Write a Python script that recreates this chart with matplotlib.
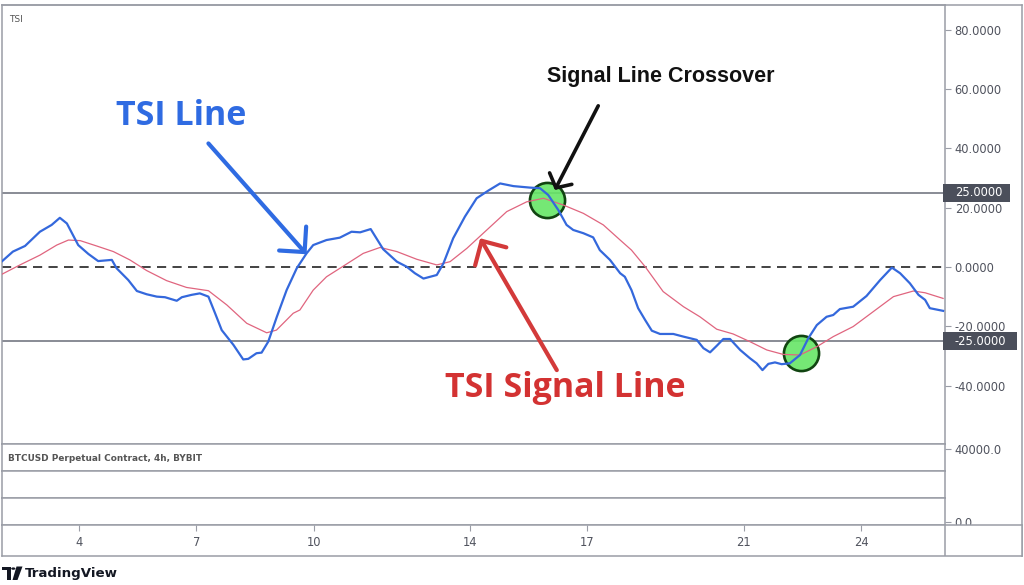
import matplotlib
matplotlib.use("Agg")
import matplotlib.pyplot as plt
from matplotlib import transforms
from matplotlib.patches import FancyArrowPatch, Rectangle, Circle, Polygon
from matplotlib.lines import Line2D

# ---------------- data ----------------
tsi_x = [2.02, 2.31, 2.62, 3.00, 3.30, 3.51, 3.69, 3.98, 4.24, 4.49, 4.84, 4.96, 5.26, 5.48,
         5.73, 5.99, 6.20, 6.50, 6.63, 6.88, 7.09, 7.31, 7.48, 7.65, 7.95, 8.20, 8.33, 8.54,
         8.67, 8.84, 9.06, 9.31, 9.57, 9.82, 9.99, 10.33, 10.67, 10.97, 11.19, 11.46, 11.78,
         12.13, 12.38, 12.59, 12.81, 13.15, 13.32, 13.57, 13.87, 14.17, 14.47, 14.77, 15.11,
         15.53, 15.79, 16.00, 16.26, 16.47, 16.64, 16.90, 17.15, 17.32, 17.58, 17.84, 17.96,
         18.13, 18.30, 18.48, 18.65, 18.86, 19.20, 19.46, 19.80, 19.97, 20.14, 20.31, 20.48,
         20.65, 20.91, 21.16, 21.33, 21.48, 21.63, 21.80, 21.97, 22.18, 22.44, 22.65, 22.87,
         23.12, 23.29, 23.46, 23.80, 24.14, 24.49, 24.79, 25.00, 25.25, 25.47, 25.64, 25.76,
         26.10]
tsi_y = [1.8, 5.2, 7.1, 11.9, 14.2, 16.6, 14.7, 7.4, 4.4, 2.0, 2.4, -0.4, -4.4, -8.1,
         -9.2, -10.0, -10.2, -11.4, -10.2, -9.4, -8.9, -10.0, -15.6, -21.3, -26.3, -31.2, -31.0, -29.1,
         -28.9, -25.2, -16.8, -7.8, -0.4, 4.6, 7.4, 9.1, 9.9, 11.9, 11.7, 12.8, 6.0,
         1.8, 0.1, -2.1, -3.9, -2.7, 1.2, 9.7, 17.0, 23.2, 25.8, 28.2, 27.3,
         26.8, 26.6, 24.3, 19.2, 14.2, 12.5, 11.4, 10.0, 5.7, 2.4, -2.1, -3.3,
         -7.8, -13.9, -17.9, -21.5, -22.6, -22.6, -23.5, -24.6, -27.4, -28.8, -26.6, -24.3,
         -24.3, -28.0, -30.8, -32.5, -34.8, -32.7, -32.2, -32.8, -32.5, -29.7, -24.1, -19.6,
         -16.8, -16.2, -14.2, -13.4, -9.8, -4.4, -0.2, -2.1, -5.5, -9.4, -11.1, -13.9,
         -14.8]

sig_x = [2.02, 2.49, 3.00, 3.43, 3.73, 4.03, 4.45, 4.88, 5.30, 5.73, 6.24, 6.75, 7.31, 7.78,
         8.29, 8.80, 9.05, 9.48, 9.65, 9.99, 10.33, 10.76, 11.27, 11.70, 12.13, 12.64, 13.15,
         13.49, 13.92, 14.43, 14.94, 15.45, 15.88, 16.39, 16.90, 17.41, 17.84, 18.13, 18.48,
         18.94, 19.46, 19.88, 20.31, 20.73, 21.16, 21.59, 22.01, 22.44, 22.87, 23.29, 23.80,
         24.31, 24.83, 25.34, 25.64, 26.10]
sig_y = [-2.5, 0.7, 4.0, 7.4, 9.1, 8.9, 7.1, 5.2, 2.4, -1.2, -4.6, -6.9, -8.0, -12.8,
         -19.0, -22.2, -21.3, -15.6, -14.5, -7.8, -3.3, 0.3, 4.6, 6.6, 5.2, 2.6, 0.7,
         1.8, 6.3, 12.5, 18.7, 22.0, 23.2, 20.9, 18.1, 14.2, 9.1, 5.7, 0.1,
         -8.3, -13.4, -16.8, -21.0, -22.6, -25.2, -28.0, -29.5, -29.7, -26.9, -23.5, -20.1,
         -15.1, -10.0, -8.1, -8.7, -10.6]

cross_x = [15.97, 22.47]
cross_y = [22.6, -28.9]

levels = [25, -25]
y_ticks = [-40, -20, 0, 20, 40, 60, 80]
x_ticks = [4, 7, 10, 14, 17, 21, 24]
x_labels = ["4", "7", "10", "14", "17", "21", "24"]

# ---------------- layout helpers ----------------
W, H = 1024, 585
fig = plt.figure(figsize=(W / 100, H / 100), dpi=100)
fig.patch.set_facecolor("white")


def rect(x0, y0, x1, y1):
    return [x0 / W, 1 - y1 / H, (x1 - x0) / W, (y1 - y0) / H]


def fx(px):
    return px / W


def fy(py):
    return 1 - py / H


def day(px):
    return 4 + (px - 79) / 39.1


def val(py):
    return (267 - py) / 2.963


BORDER = "#9a9da6"
LABEL = "#50535e"

# ---------------- main TSI pane ----------------
ax = fig.add_axes(rect(2, 5, 945, 444))
ax.set_xlim(day(2), day(945))
ax.set_ylim(val(444), val(5))
for s in ax.spines.values():
    s.set_color(BORDER)
    s.set_linewidth(1.1)
ax.set_xticks([])
ax.yaxis.tick_right()
ax.set_yticks(y_ticks)
ax.set_yticklabels([f"{v:.4f}" for v in y_ticks])
ax.tick_params(axis="y", length=4, width=0.8, color=BORDER, labelcolor=LABEL,
               labelsize=8.3, pad=3)

for lv in levels:
    ax.axhline(lv, color="#7f828c", lw=1.3, zorder=1)
ax.axhline(0, color="#222222", lw=1.2, ls=(0, (5.5, 3.8)), zorder=1)

ax.scatter(cross_x, cross_y, s=640, facecolor=(0.40, 0.90, 0.40, 0.9),
           edgecolor="#114411", linewidth=1.9, zorder=2.8)

ax.plot(sig_x, sig_y, color="#e0657f", lw=0.9, zorder=3)
ax.plot(tsi_x, tsi_y, color="#3468dc", lw=1.6, zorder=3.2)

# level boxes on the price scale
bt = transforms.blended_transform_factory(ax.transAxes, ax.transData)
for lv, right in [(25, 1010), (-25, 1017)]:
    x0 = (943 - 2) / 943
    x1 = (right - 2) / 943
    ax.add_patch(Rectangle((x0, lv - 2.9), x1 - x0, 5.8, transform=bt,
                           facecolor="#4b4f5b", edgecolor="none", clip_on=False, zorder=6))
    ax.text((955 - 2) / 943, lv, f"{lv:.4f}", transform=bt, color="white",
            fontsize=8.3, va="center", ha="left", zorder=7, clip_on=False)

ax.text(7 / 943, 1 - 14 / 439, "TSI", transform=ax.transAxes, fontsize=6.5,
        color="#555555", va="center", ha="left")

# annotations
ax.text(6.61, 47.9, "TSI Line", color="#2f6be2", fontsize=24.5, fontweight="bold",
        family=["Open Sans", "DejaVu Sans"], ha="center", va="baseline", zorder=8)
ax.text(16.44, -43.9, "TSI Signal Line", color="#d33232", fontsize=24.5,
        fontweight="bold", family=["Open Sans", "DejaVu Sans"], ha="center",
        va="baseline", zorder=8)
ax.text(18.89, 62.5, "Signal Line Crossover", color="#111111", fontsize=15.5,
        fontweight="bold", family=["Liberation Sans", "DejaVu Sans"], ha="center",
        va="baseline", zorder=8)

for (xa, ya), (xb, yb), col, lw, hl, hw in [
    ((7.31, 41.7), (9.82, 4.3), "#2f6be2", 3.0, 1.3, 1.3),
    ((16.22, -34.8), (14.26, 9.7), "#d33a3a", 3.0, 1.3, 1.3),
    ((17.28, 54.4), (16.17, 26.0), "#111111", 2.6, 0.75, 0.9),
]:
    ax.add_patch(FancyArrowPatch((xa, ya), (xb, yb),
                                 arrowstyle=f"->,head_length={hl},head_width={hw}",
                                 mutation_scale=10, color=col, lw=lw,
                                 shrinkA=0, shrinkB=0, zorder=9, capstyle="round",
                                 joinstyle="round"))

# ---------------- lower (price) panes ----------------
panes = []
for y0, y1 in [(444, 471), (471, 498), (498, 525)]:
    p = fig.add_axes(rect(2, y0, 945, y1))
    p.set_xlim(day(2), day(945))
    p.set_ylim(0, 1)
    p.set_xticks([])
    for s in p.spines.values():
        s.set_color(BORDER)
        s.set_linewidth(1.1)
    p.yaxis.tick_right()
    p.tick_params(axis="y", length=4, width=0.8, color=BORDER, labelcolor=LABEL,
                  labelsize=8.3, pad=3)
    p.set_yticks([])
    panes.append(p)

panes[0].set_yticks([(471 - 449) / 27])
panes[0].set_yticklabels(["40000.0"])
panes[2].set_yticks([(525 - 522) / 27])
panes[2].set_yticklabels(["0.0"])
panes[0].text(6 / 943, 0.45, "BTCUSD Perpetual Contract, 4h, BYBIT",
              transform=panes[0].transAxes, fontsize=6.4, fontweight="bold",
              color="#555555", va="center", ha="left")

# ---------------- time axis strip ----------------
st = fig.add_axes(rect(2, 525, 1022, 556))
st.set_zorder(5)
st.set_facecolor("white")
st.set_xlim(day(2), day(1022))
st.set_ylim(0, 1)
st.set_yticks([])
st.xaxis.tick_top()
st.set_xticks(x_ticks)
st.set_xticklabels([])
st.tick_params(axis="x", direction="in", length=4, width=0.8, color=BORDER)
for s in st.spines.values():
    s.set_color(BORDER)
    s.set_linewidth(1.1)
for xt, lab in zip(x_ticks, x_labels):
    st.text(xt, 0.45, lab, fontsize=8.3, color=LABEL, ha="center", va="center")
st.axvline(day(945), color=BORDER, lw=1.1)

# outer frame of price-scale column
fig.add_artist(Line2D([fx(2), fx(1022)], [fy(5), fy(5)], color=BORDER, lw=1.1))
fig.add_artist(Line2D([fx(1022), fx(1022)], [fy(5), fy(556)], color=BORDER, lw=1.1))

# ---------------- TradingView footer ----------------
fig.add_artist(Polygon([(fx(2), fy(566.5)), (fx(10.5), fy(566.5)), (fx(10.5), fy(580)),
                        (fx(6.5), fy(580)), (fx(6.5), fy(570)), (fx(2), fy(570))],
                       closed=True, transform=fig.transFigure, facecolor="#131722",
                       edgecolor="none"))
fig.add_artist(Circle((fx(13.3), fy(568.6)), 2.1 / W, transform=fig.transFigure,
                      facecolor="#131722", edgecolor="none"))
fig.add_artist(Polygon([(fx(16.5), fy(566.5)), (fx(22.5), fy(566.5)), (fx(17.5), fy(580)),
                        (fx(12.5), fy(580))], closed=True, transform=fig.transFigure,
                       facecolor="#131722", edgecolor="none"))
fig.text(fx(25), fy(573), "TradingView", fontsize=9.6, fontweight="semibold",
         color="#131722", va="center", ha="left")

fig.savefig("out.png", dpi=100, facecolor="white")
